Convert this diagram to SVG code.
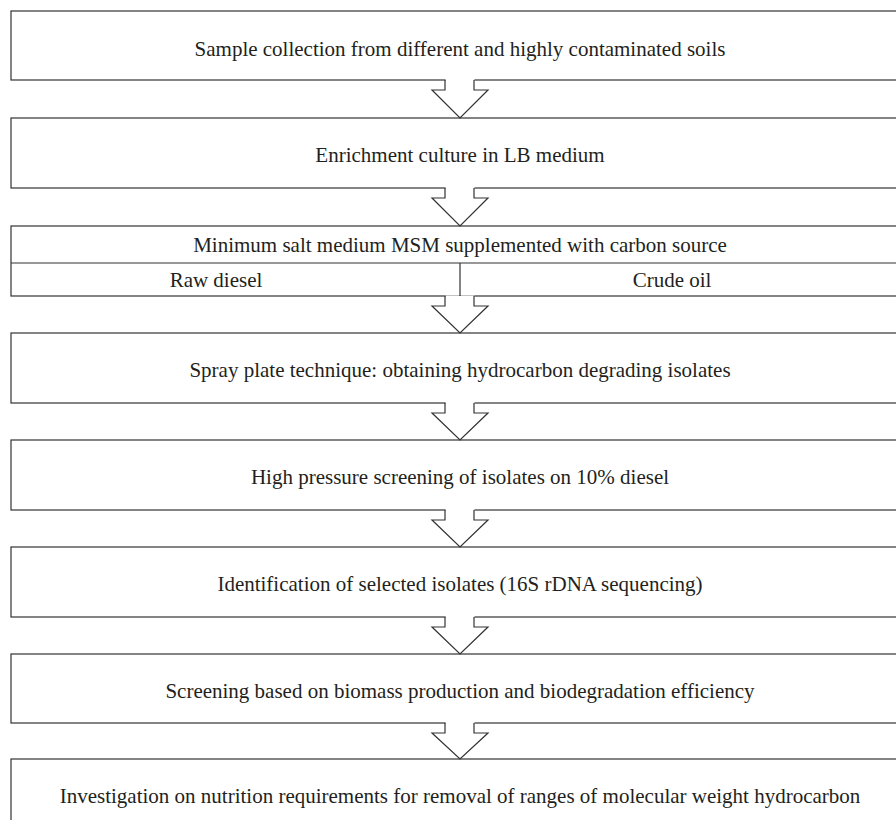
<svg xmlns="http://www.w3.org/2000/svg" width="896" height="820" viewBox="0 0 896 820">
<style>
.box{fill:#fff;stroke:#333;stroke-width:1.2}
.ln{fill:none;stroke:#333;stroke-width:1.2}
.ar{fill:none;stroke:#333;stroke-width:1.2;stroke-linejoin:miter}
.cv{fill:#fff;stroke:none}
text{font-family:"Liberation Serif","Times New Roman",serif;font-size:21px;fill:#231f20;text-anchor:middle}
</style>
<rect width="896" height="820" fill="#fff"/>
<g id="n1"><rect class="box" x="11" y="11" width="910" height="69"/><text x="460" y="56">Sample collection from different and highly contaminated soils</text></g>
<g id="n2"><rect class="box" x="11" y="118" width="910" height="70"/><text x="460" y="162">Enrichment culture in LB medium</text></g>
<g id="n3"><rect class="box" x="11" y="226" width="910" height="70"/><line class="ln" x1="11" y1="263" x2="921" y2="263"/><line class="ln" x1="460" y1="263" x2="460" y2="296"/><text x="460" y="252">Minimum salt medium MSM supplemented with carbon source</text><text x="216" y="287">Raw diesel</text><text x="672" y="287">Crude oil</text></g>
<g id="n4"><rect class="box" x="11" y="333" width="910" height="70"/><text x="460" y="377">Spray plate technique: obtaining hydrocarbon degrading isolates</text></g>
<g id="n5"><rect class="box" x="11" y="440" width="910" height="70"/><text x="460" y="484">High pressure screening of isolates on 10% diesel</text></g>
<g id="n6"><rect class="box" x="11" y="547" width="910" height="70"/><text x="460" y="591">Identification of selected isolates (16S rDNA sequencing)</text></g>
<g id="n7"><rect class="box" x="11" y="654" width="910" height="69"/><text x="460" y="698">Screening based on biomass production and biodegradation efficiency</text></g>
<g id="n8"><rect class="box" x="11" y="759" width="910" height="80"/><text x="460" y="803">Investigation on nutrition requirements for removal of ranges of molecular weight hydrocarbon</text></g>
<g id="connectors">
<g transform="translate(0,80)"><path class="cv" d="M445.6,-1 V10 H432 L460,38 L488,10 H474.4 V-1 Z"/><path class="ar" d="M445,0 V10 H432 L460,38 L488,10 H474 V0"/></g>
<g transform="translate(0,188)"><path class="cv" d="M445.6,-1 V10 H432 L460,38 L488,10 H474.4 V-1 Z"/><path class="ar" d="M445,0 V10 H432 L460,38 L488,10 H474 V0"/></g>
<g transform="translate(0,296)"><path class="cv" d="M445.6,-0.6 V10 H432 L460,37 L488,10 H474.4 V-0.6 Z"/><line class="ln" x1="460" y1="-1" x2="460" y2="0"/><path class="ar" d="M445,0 V10 H432 L460,37 L488,10 H474 V0"/></g>
<g transform="translate(0,403)"><path class="cv" d="M445.6,-1 V10 H432 L460,37 L488,10 H474.4 V-1 Z"/><path class="ar" d="M445,0 V10 H432 L460,37 L488,10 H474 V0"/></g>
<g transform="translate(0,510)"><path class="cv" d="M445.6,-1 V10 H432 L460,37 L488,10 H474.4 V-1 Z"/><path class="ar" d="M445,0 V10 H432 L460,37 L488,10 H474 V0"/></g>
<g transform="translate(0,617)"><path class="cv" d="M445.6,-1 V10 H432 L460,37 L488,10 H474.4 V-1 Z"/><path class="ar" d="M445,0 V10 H432 L460,37 L488,10 H474 V0"/></g>
<g transform="translate(0,723)"><path class="cv" d="M445.6,-1 V10 H432 L460,36 L488,10 H474.4 V-1 Z"/><path class="ar" d="M445,0 V10 H432 L460,36 L488,10 H474 V0"/></g>
</g>
</svg>
